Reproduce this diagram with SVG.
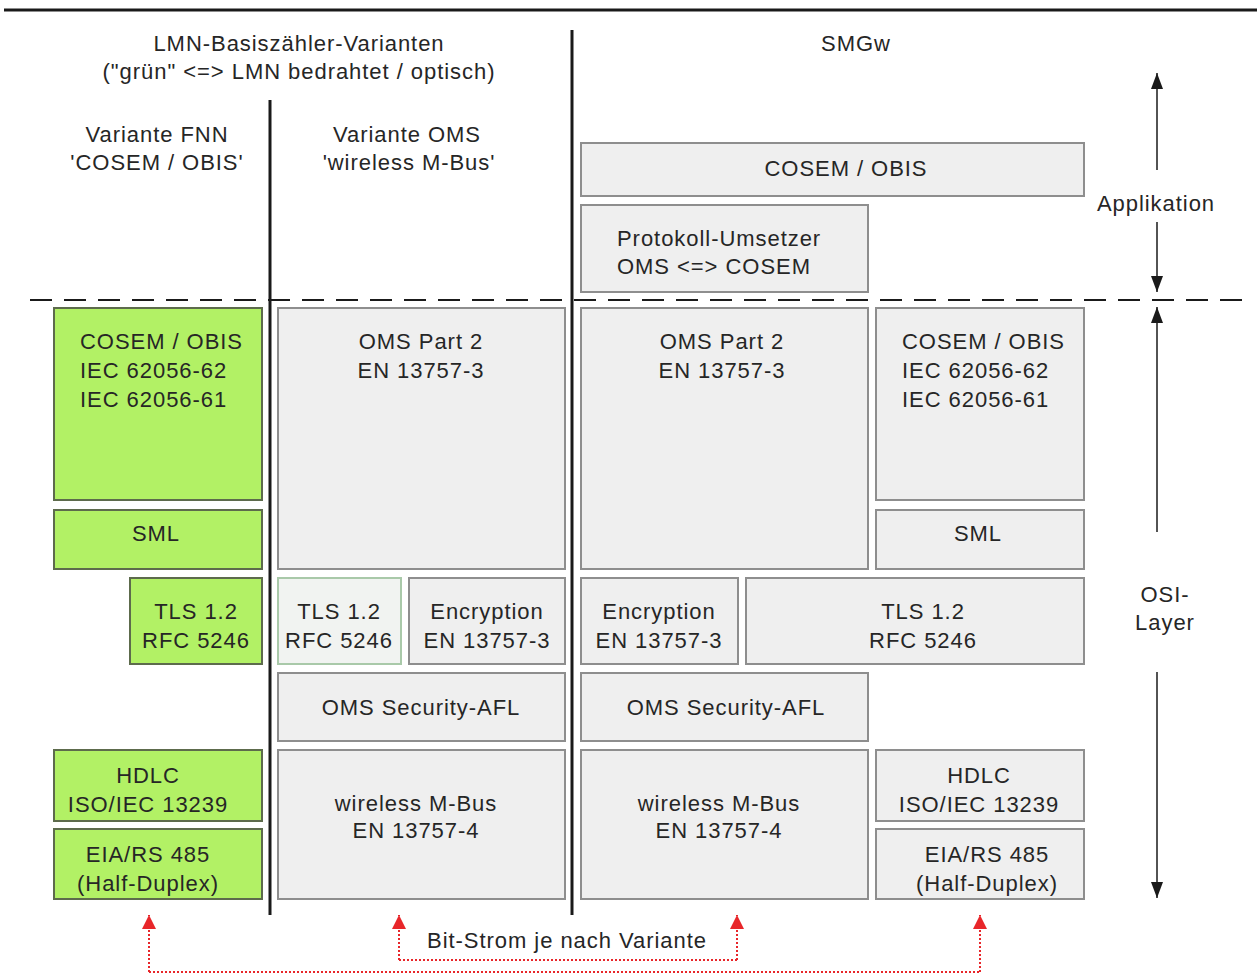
<svg xmlns="http://www.w3.org/2000/svg" width="1257" height="979" viewBox="0 0 1257 979">
<style>
text{font-family:"Liberation Sans",Arial,sans-serif;font-size:22px;fill:#262626;letter-spacing:0.95px}
.c{text-anchor:middle}
.g{fill:#b2f165;stroke:#5d6b4c;stroke-width:2}
.b{fill:#efefef;stroke:#8e8e8e;stroke-width:2}
.bl{fill:#f1f3f1;stroke:#a9c9a9;stroke-width:2}
.ln{stroke:#1a1a1a;stroke-width:3;fill:none}
.ar{stroke:#1a1a1a;stroke-width:1.5;fill:none}
.rd{stroke:#e8262a;stroke-width:2;stroke-dasharray:2 2;fill:none}
</style>
<defs>
<marker id="ah" viewBox="0 0 16 12" refX="16" refY="6" markerWidth="16" markerHeight="12" markerUnits="userSpaceOnUse" orient="auto"><path d="M0,0 L16,6 L0,12 z" fill="#1a1a1a"/></marker>
<marker id="rh" viewBox="0 0 14 14" refX="14" refY="7" markerWidth="14" markerHeight="14" markerUnits="userSpaceOnUse" orient="auto"><path d="M0,0 L14,7 L0,14 z" fill="#e8262a"/></marker>
</defs>
<rect width="1257" height="979" fill="#fff"/>
<g id="frame">
<line class="ln" x1="4" y1="10" x2="1257" y2="10"/>
<line class="ln" x1="270" y1="100" x2="270" y2="915"/>
<line class="ln" x1="572" y1="30" x2="572" y2="915"/>
<line x1="30" y1="300" x2="1248" y2="300" stroke="#1a1a1a" stroke-width="2" stroke-dasharray="22 12"/>
</g>
<g id="headers">
<text class="c" x="299" y="51">LMN-Basiszähler-Varianten</text>
<text class="c" x="299" y="79">("grün" &lt;=&gt; LMN bedrahtet / optisch)</text>
<text class="c" x="856" y="51">SMGw</text>
<text class="c" x="157" y="142">Variante FNN</text>
<text class="c" x="157" y="170">'COSEM / OBIS'</text>
<text class="c" x="407" y="142">Variante OMS</text>
<text class="c" x="409" y="170">'wireless M-Bus'</text>
<text class="c" x="1156" y="211">Applikation</text>
<text class="c" x="1165" y="602">OSI-</text>
<text class="c" x="1165" y="630">Layer</text>
</g>
<g id="fnn-cosem"><rect class="g" x="54" y="308" width="208" height="192"/><text x="80" y="349">COSEM / OBIS</text><text x="80" y="378">IEC 62056-62</text><text x="80" y="407">IEC 62056-61</text></g>
<g id="fnn-sml"><rect class="g" x="54" y="510" width="208" height="59"/><text class="c" x="156" y="541">SML</text></g>
<g id="fnn-tls"><rect class="g" x="130" y="578" width="132" height="86"/><text class="c" x="196" y="619">TLS 1.2</text><text class="c" x="196" y="648">RFC 5246</text></g>
<g id="fnn-hdlc"><rect class="g" x="54" y="750" width="208" height="71"/><text class="c" x="148" y="783">HDLC</text><text class="c" x="148" y="812">ISO/IEC 13239</text></g>
<g id="fnn-eia"><rect class="g" x="54" y="829" width="208" height="70"/><text class="c" x="148" y="862">EIA/RS 485</text><text class="c" x="148" y="891">(Half-Duplex)</text></g>

<g id="oms-part2"><rect class="b" x="278" y="308" width="287" height="261"/><text class="c" x="421" y="349">OMS Part 2</text><text class="c" x="421" y="378">EN 13757-3</text></g>
<g id="oms-tls"><rect class="bl" x="278" y="578" width="123" height="86"/><text class="c" x="339" y="619">TLS 1.2</text><text class="c" x="339" y="648">RFC 5246</text></g>
<g id="oms-enc"><rect class="b" x="409" y="578" width="156" height="86"/><text class="c" x="487" y="619">Encryption</text><text class="c" x="487" y="648">EN 13757-3</text></g>
<g id="oms-afl"><rect class="b" x="278" y="673" width="287" height="68"/><text class="c" x="421" y="715">OMS Security-AFL</text></g>
<g id="oms-wmbus"><rect class="b" x="278" y="750" width="287" height="149"/><text class="c" x="416" y="811">wireless M-Bus</text><text class="c" x="416" y="838">EN 13757-4</text></g>

<g id="smgw-cosem"><rect class="b" x="581" y="143" width="503" height="53"/><text class="c" x="846" y="176">COSEM / OBIS</text></g>
<g id="smgw-umsetzer"><rect class="b" x="581" y="205" width="287" height="87"/><text x="617" y="246">Protokoll-Umsetzer</text><text x="617" y="274">OMS &lt;=&gt; COSEM</text></g>
<g id="smgw-part2"><rect class="b" x="581" y="308" width="287" height="261"/><text class="c" x="722" y="349">OMS Part 2</text><text class="c" x="722" y="378">EN 13757-3</text></g>
<g id="smgw-cosem2"><rect class="b" x="876" y="308" width="208" height="192"/><text x="902" y="349">COSEM / OBIS</text><text x="902" y="378">IEC 62056-62</text><text x="902" y="407">IEC 62056-61</text></g>
<g id="smgw-sml"><rect class="b" x="876" y="510" width="208" height="59"/><text class="c" x="978" y="541">SML</text></g>
<g id="smgw-enc"><rect class="b" x="581" y="578" width="157" height="86"/><text class="c" x="659" y="619">Encryption</text><text class="c" x="659" y="648">EN 13757-3</text></g>
<g id="smgw-tls"><rect class="b" x="746" y="578" width="338" height="86"/><text class="c" x="923" y="619">TLS 1.2</text><text class="c" x="923" y="648">RFC 5246</text></g>
<g id="smgw-afl"><rect class="b" x="581" y="673" width="287" height="68"/><text class="c" x="726" y="715">OMS Security-AFL</text></g>
<g id="smgw-wmbus"><rect class="b" x="581" y="750" width="287" height="149"/><text class="c" x="719" y="811">wireless M-Bus</text><text class="c" x="719" y="838">EN 13757-4</text></g>
<g id="smgw-hdlc"><rect class="b" x="876" y="750" width="208" height="71"/><text class="c" x="979" y="783">HDLC</text><text class="c" x="979" y="812">ISO/IEC 13239</text></g>
<g id="smgw-eia"><rect class="b" x="876" y="829" width="208" height="70"/><text class="c" x="987" y="862">EIA/RS 485</text><text class="c" x="987" y="891">(Half-Duplex)</text></g>

<g id="connectors">
<line class="ar" x1="1157" y1="170" x2="1157" y2="73" marker-end="url(#ah)"/>
<line class="ar" x1="1157" y1="222" x2="1157" y2="292" marker-end="url(#ah)"/>
<line class="ar" x1="1157" y1="532" x2="1157" y2="307" marker-end="url(#ah)"/>
<line class="ar" x1="1157" y1="672" x2="1157" y2="898" marker-end="url(#ah)"/>
<path class="rd" d="M399 960 H737"/>
<path class="rd" d="M399 960 V915" marker-end="url(#rh)"/>
<path class="rd" d="M737 960 V915" marker-end="url(#rh)"/>
<path class="rd" d="M149 972 H980"/>
<path class="rd" d="M149 972 V915" marker-end="url(#rh)"/>
<path class="rd" d="M980 972 V915" marker-end="url(#rh)"/>
<text class="c" x="567" y="948">Bit-Strom je nach Variante</text>
</g>
</svg>
